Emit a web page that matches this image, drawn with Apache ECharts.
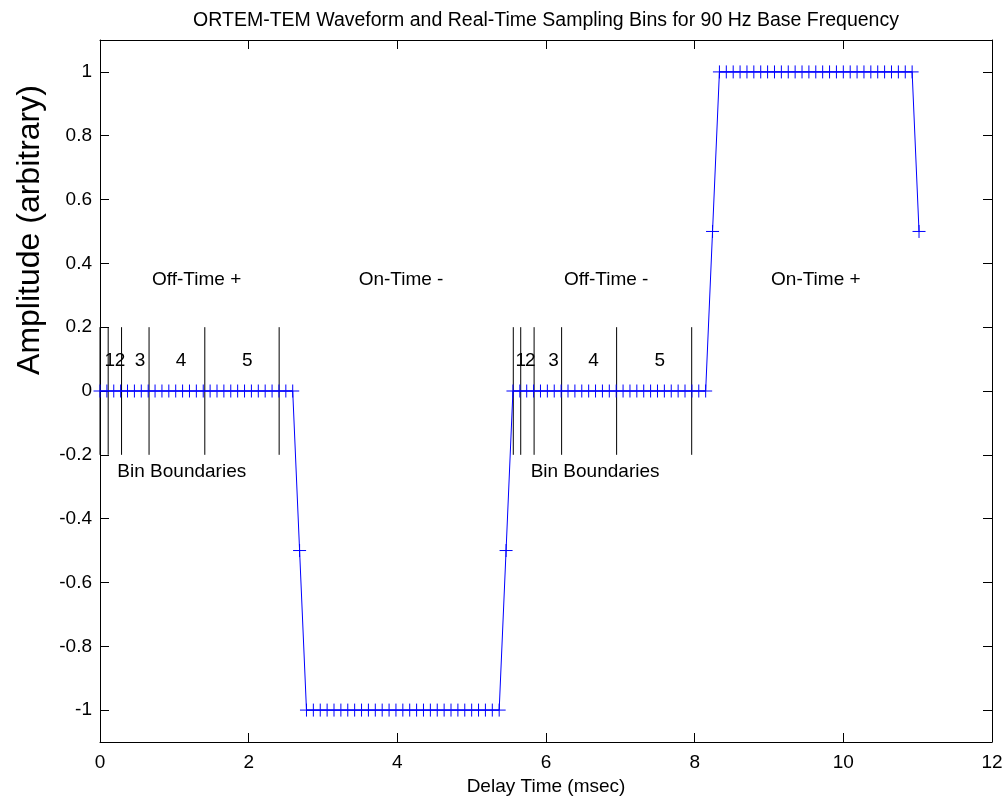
<!DOCTYPE html>
<html>
<head>
<meta charset="utf-8">
<script src="https://cdn.jsdelivr.net/npm/echarts@6/dist/echarts.min.js"></script>
<style>html,body{margin:0;padding:0;background:#fff;}#c{width:1005px;height:799px;}</style>
</head>
<body>
<div id="c"></div>
<script>
// ---- data ----
const titleText = 'ORTEM-TEM Waveform and Real-Time Sampling Bins for 90 Hz Base Frequency';
const xLabel = 'Delay Time (msec)';
const yLabel = 'Amplitude (arbitrary)';
const xTicks = [0, 2, 4, 6, 8, 10, 12];
const yTicks = [-1, -0.8, -0.6, -0.4, -0.2, 0, 0.2, 0.4, 0.6, 0.8, 1];
// sample spacing (msec): 120 samples per 90 Hz period
const sampleStep = 0.09259;
// amplitude at each sample
const amplitude = [
  0,0,0,0,0,0,0,0,0,0, 0,0,0,0,0,0,0,0,0,0, 0,0,0,0,0,0,0,0,0, -0.5,
  -1,-1,-1,-1,-1,-1,-1,-1,-1,-1, -1,-1,-1,-1,-1,-1,-1,-1,-1,-1, -1,-1,-1,-1,-1,-1,-1,-1,-1, -0.5,
  0,0,0,0,0,0,0,0,0,0, 0,0,0,0,0,0,0,0,0,0, 0,0,0,0,0,0,0,0,0, 0.5,
  1,1,1,1,1,1,1,1,1,1, 1,1,1,1,1,1,1,1,1,1, 1,1,1,1,1,1,1,1,1, 0.5
];
// bin boundary times (msec)
const binBoundaries = [0, 0.11, 0.29, 0.66, 1.41, 2.41, 5.56, 5.66, 5.84, 6.21, 6.95, 7.96];
const boundaryLow = -0.2, boundaryHigh = 0.2;
// bin number labels
const binLabels = ['1','2','3','4','5','1','2','3','4','5'];
const binLabelX = [0.13, 0.27, 0.54, 1.09, 1.98, 5.66, 5.79, 6.10, 6.64, 7.53];
const binLabelY = 0.095;
// section labels
const sectionLabels = ['Off-Time +', 'On-Time -', 'Off-Time -', 'On-Time +'];
const sectionX = [1.30, 4.05, 6.81, 9.63];
const sectionY = 0.35;
const bbLabels = ['Bin Boundaries', 'Bin Boundaries'];
const bbX = [1.10, 6.66];
const bbY = -0.254;

// ---- chart ----
const FONT = 'Liberation Sans';
const FS = 19;
const chart = echarts.init(document.getElementById('c'), null, {renderer: 'canvas'});

const points = amplitude.map((a, i) => [i * sampleStep, a]);
const series = [];
series.push({
  type: 'line',
  data: points,
  symbol: 'none',
  lineStyle: {color: '#0000ff', width: 1},
  z: 3
});
series.push({
  type: 'custom',
  data: points,
  encode: {x: 0, y: 1},
  renderItem: function (params, api) {
    const p = api.coord([api.value(0), api.value(1)]);
    const h = 6.5;
    return {
      type: 'group',
      children: [
        {type: 'line', shape: {x1: p[0] - h, y1: p[1], x2: p[0] + h, y2: p[1]}, style: {stroke: '#0000ff', lineWidth: 1}},
        {type: 'line', shape: {x1: p[0], y1: p[1] - h, x2: p[0], y2: p[1] + h}, style: {stroke: '#0000ff', lineWidth: 1}}
      ]
    };
  },
  z: 3
});
binBoundaries.forEach(b => {
  series.push({
    type: 'line',
    data: [[b, boundaryLow], [b, boundaryHigh]],
    symbol: 'none',
    lineStyle: {color: '#000', width: 1},
    z: 2
  });
});
function textSeries(texts, xs, y) {
  return {
    type: 'scatter',
    symbolSize: 1,
    itemStyle: {color: 'rgba(0,0,0,0)'},
    data: texts.map((t, i) => ({value: [xs[i], y], name: t})),
    label: {
      show: true, position: 'inside', formatter: p => p.name,
      color: '#000', fontSize: FS, fontFamily: FONT,
      textBorderWidth: 0, opacity: 1
    },
    z: 4
  };
}
series.push(textSeries(binLabels, binLabelX, binLabelY));
series.push(textSeries(sectionLabels, sectionX, sectionY));
series.push(textSeries(bbLabels, bbX, bbY));

const tickStyle = {inside: true, length: 9, lineStyle: {color: '#000', width: 1}};
const lineStyle = {onZero: false, lineStyle: {color: '#000', width: 1}};

chart.setOption({
  animation: false,
  backgroundColor: '#fff',
  title: {
    text: titleText, left: 541, top: 6, textAlign: 'center',
    textStyle: {fontSize: 19.5, fontWeight: 'normal', color: '#000', fontFamily: FONT}
  },
  grid: {left: 100, top: 40, width: 892, height: 702, containLabel: false, outerBoundsMode: 'none'},
  xAxis: [{
    type: 'value', min: 0, max: 12, interval: 2,
    axisLine: lineStyle, axisTick: tickStyle, splitLine: {show: false},
    axisLabel: {color: '#000', fontSize: FS, fontFamily: FONT, margin: 11},
    name: xLabel, nameLocation: 'middle', nameGap: 35,
    nameTextStyle: {color: '#000', fontSize: FS, fontFamily: FONT}
  }, {
    type: 'value', position: 'top', min: 0, max: 12, interval: 2,
    axisLine: lineStyle, axisTick: tickStyle, splitLine: {show: false},
    axisLabel: {show: false}
  }],
  yAxis: [{
    type: 'value', min: -1.1, max: 1.1,
    axisLine: lineStyle,
    axisTick: Object.assign({customValues: yTicks}, tickStyle),
    splitLine: {show: false},
    axisLabel: {color: '#000', fontSize: FS, fontFamily: FONT, margin: 8, customValues: yTicks}
  }, {
    type: 'value', position: 'right', min: -1.1, max: 1.1,
    axisLine: lineStyle,
    axisTick: Object.assign({customValues: yTicks}, tickStyle),
    splitLine: {show: false},
    axisLabel: {show: false}
  }],
  graphic: [{
    type: 'text', x: 30, y: 230, rotation: Math.PI / 2,
    style: {text: yLabel, fontSize: 32, fontFamily: FONT, fill: '#000', align: 'center', verticalAlign: 'middle'}
  }],
  series: series
});
</script>
</body>
</html>
